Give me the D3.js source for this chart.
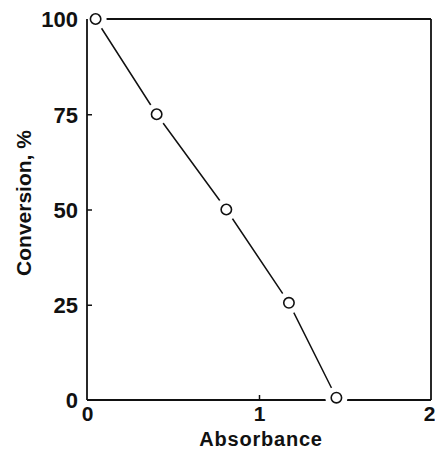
<!DOCTYPE html>
<html>
<head>
<meta charset="utf-8">
<script src="https://cdn.jsdelivr.net/npm/d3@7"></script>
<style>
  html, body { margin: 0; padding: 0; background: #fff; }
  svg { display: block; }
  text { font-family: "Liberation Sans", Arial, Helvetica, sans-serif; font-weight: bold; fill: #111; }
</style>
</head>
<body>
<svg id="chart" width="435" height="450"></svg>
<script>
// Measured points: absorbance vs. percent conversion
const absorbance = [0.05, 0.405, 0.81, 1.174, 1.45];
const conversion = [100, 75, 50, 25.5, 0.6];
const xTicks = [0, 1, 2];
const yTicks = [0, 25, 50, 75, 100];
const xTitle = "Absorbance";
const yTitle = "Conversion, %";

const svg = d3.select("#chart");
const plotLeft = 87, plotRight = 431, plotTop = 19, plotBottom = 400;

const x = d3.scaleLinear().domain([0, 2]).range([plotLeft, plotRight]);
const y = d3.scaleLinear().domain([0, 100]).range([plotBottom, plotTop]);

const ink = "#111";
const points = absorbance.map((a, i) => ({ a, c: conversion[i] }));

// Top and bottom frame lines (broken around the markers by the halos below)
svg.append("line").attr("x1", plotLeft).attr("x2", plotRight).attr("y1", plotTop).attr("y2", plotTop)
  .attr("stroke", ink).attr("stroke-width", 1.8);
svg.append("line").attr("x1", plotLeft).attr("x2", plotRight).attr("y1", plotBottom).attr("y2", plotBottom)
  .attr("stroke", ink).attr("stroke-width", 1.8);

// Data line
svg.append("path")
  .datum(points)
  .attr("fill", "none")
  .attr("stroke", ink)
  .attr("stroke-width", 1.5)
  .attr("d", d3.line().x(d => x(d.a)).y(d => y(d.c)));

// White halos that open gaps in the lines around each marker
svg.append("g").selectAll("circle").data(points).join("circle")
  .attr("cx", d => x(d.a)).attr("cy", d => y(d.c)).attr("r", 11)
  .attr("fill", "#fff");

// Left and right frame lines
svg.append("line").attr("x1", plotLeft).attr("x2", plotLeft).attr("y1", plotTop).attr("y2", plotBottom)
  .attr("stroke", ink).attr("stroke-width", 1.8);
svg.append("line").attr("x1", plotRight).attr("x2", plotRight).attr("y1", plotTop).attr("y2", plotBottom)
  .attr("stroke", ink).attr("stroke-width", 1.8);

// Y axis: inward ticks, bold labels
const yAxis = d3.axisLeft(y).tickValues(yTicks).tickSize(-5).tickPadding(14).tickFormat(d3.format("d"));
const gy = svg.append("g").attr("transform", `translate(${plotLeft},0)`).call(yAxis);
gy.select(".domain").remove();
gy.selectAll(".tick line").attr("stroke", ink).attr("stroke-width", 1.5)
  .filter(d => d === 0 || d === 100).remove();
gy.selectAll(".tick text").attr("font-size", 22).attr("fill", ink)
  .attr("font-family", "Liberation Sans, Arial, sans-serif").attr("font-weight", "bold")
  .attr("x", -9).attr("dy", "0.36em");

// X axis: inward ticks, bold labels
const xAxis = d3.axisBottom(x).tickValues(xTicks).tickSize(-5).tickPadding(9).tickFormat(d3.format("d"));
const gx = svg.append("g").attr("transform", `translate(0,${plotBottom})`).call(xAxis);
gx.select(".domain").remove();
gx.selectAll(".tick line").attr("stroke", ink).attr("stroke-width", 1.5)
  .filter(d => d === 0 || d === 2).remove();
gx.selectAll(".tick text").attr("font-size", 21).attr("fill", ink)
  .attr("font-family", "Liberation Sans, Arial, sans-serif").attr("font-weight", "bold")
  .attr("y", 6).attr("dy", "0.71em");
// Keep the last label inside the page edge
gx.selectAll(".tick text").filter(d => d === 2)
  .attr("text-anchor", "end").attr("x", 4);

// Open circle markers
svg.append("g").selectAll("circle").data(points).join("circle")
  .attr("cx", d => x(d.a)).attr("cy", d => y(d.c)).attr("r", 5.2)
  .attr("fill", "#fff").attr("stroke", ink).attr("stroke-width", 1.6);

// Axis titles
svg.append("text")
  .attr("x", (plotLeft + plotRight) / 2 + 2).attr("y", 446)
  .attr("text-anchor", "middle").attr("font-size", 20)
  .attr("letter-spacing", 0.8)
  .text(xTitle);

svg.append("text")
  .attr("transform", "translate(31,203) rotate(-90)")
  .attr("text-anchor", "middle").attr("font-size", 21)
  .text(yTitle);
</script>
</body>
</html>
